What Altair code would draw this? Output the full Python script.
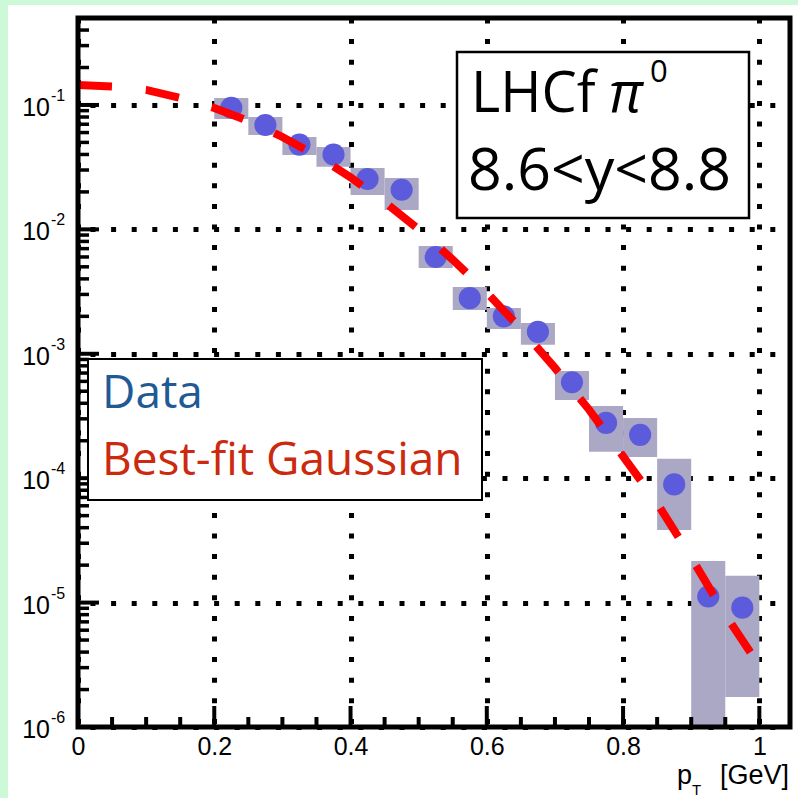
import altair as alt
import pandas as pd

# ---------------- data ----------------
pt = [0.225, 0.275, 0.325, 0.375, 0.425, 0.475, 0.525, 0.575,
      0.625, 0.675, 0.725, 0.775, 0.825, 0.875, 0.925, 0.975]
bin_lo = [0.20, 0.25, 0.30, 0.35, 0.40, 0.45, 0.50, 0.55,
          0.60, 0.65, 0.70, 0.75, 0.80, 0.85, 0.90, 0.95]
bin_hi = [0.25, 0.30, 0.35, 0.40, 0.45, 0.50, 0.55, 0.60,
          0.65, 0.70, 0.75, 0.80, 0.85, 0.90, 0.95, 1.00]
value = [0.095, 0.069, 0.048, 0.040, 0.0254, 0.0208, 0.0060, 0.0028,
         0.0020, 0.0015, 0.00059, 0.000278, 0.000223, 8.91e-5, 1.12e-5, 9.1e-6]
sys_lo = [0.0772, 0.0574, 0.0396, 0.0318, 0.0189, 0.0143, 0.0049, 0.00225,
          0.00158, 0.00118, 0.000426, 0.000163, 0.000148, 3.84e-5, 5e-7, 1.74e-6]
sys_hi = [0.1138, 0.0801, 0.0553, 0.0459, 0.0312, 0.0259, 0.00736, 0.00344,
          0.00233, 0.00177, 0.000728, 0.000380, 0.000305, 0.000143, 2.16e-5, 1.64e-5]

fit_x = [0.0, 0.05, 0.10, 0.15, 0.20, 0.25, 0.30, 0.35, 0.40, 0.45, 0.50,
         0.55, 0.60, 0.65, 0.70, 0.75, 0.80, 0.85, 0.90, 0.95, 1.00]
fit_y = [0.145, 0.141, 0.132, 0.114, 0.0945, 0.0743, 0.0553, 0.0392, 0.0262,
         0.0166, 0.0100, 0.00571, 0.00310, 0.00159, 0.00077, 0.000356,
         0.000150, 6.3e-5, 2.3e-5, 8.0e-6, 3.1e-6]

x_labels = [0.0, 0.2, 0.4, 0.6, 0.8, 1.0]
x_minor = [0.05, 0.10, 0.15, 0.25, 0.30, 0.35, 0.45, 0.50, 0.55,
           0.65, 0.70, 0.75, 0.85, 0.90, 0.95]
x_major = [0.2, 0.4, 0.6, 0.8, 1.0]
decades = [1e-6, 1e-5, 1e-4, 1e-3, 1e-2, 1e-1]
exponents = ["-6", "-5", "-4", "-3", "-2", "-1"]
mantissas = [2, 3, 4, 5, 6, 7, 8, 9]
y_minor = [m * d for d in decades for m in mantissas if m * d <= 0.5]

# ---------------- geometry / styles ----------------
W, H = 712, 709
xs = alt.Scale(domain=[0, 1.045], nice=False, zero=False)
ys = alt.Scale(type="log", domain=[1e-6, 0.5], nice=False)
grid_kw = dict(grid=True, gridColor="black", gridWidth=5, gridDash=[5, 15.6],
               gridOpacity=1, ticks=False, tickSize=0, domain=False, title=None)
xaxis = alt.Axis(values=x_labels, format="~g", labelFont="Liberation Sans",
                 labelFontSize=25, labelColor="black", labelPadding=7,
                 labelFlush=False, labelOverlap=False, **grid_kw)
yaxis = alt.Axis(values=decades, labels=False, gridDashOffset=8.6, **grid_kw)

one = pd.DataFrame({"a": [0]})
pts = pd.DataFrame({"pt": pt, "lo": bin_lo, "hi": bin_hi, "v": value,
                    "slo": sys_lo, "shi": sys_hi})
fit = pd.DataFrame({"x": fit_x, "y": fit_y})
dec = pd.DataFrame({"v": decades, "base": ["10"] * len(decades), "exp": exponents})

X = lambda f: alt.X(f, scale=xs, axis=xaxis)
Y = lambda f: alt.Y(f, scale=ys, axis=yaxis)

green_left = alt.Chart(one).mark_rect(color="#ccfad8").encode(
    x=alt.value(-78), x2=alt.value(-70), y=alt.value(-18), y2=alt.value(H + 71))
green_top = alt.Chart(one).mark_rect(color="#ccfad8").encode(
    x=alt.value(-78), x2=alt.value(W + 8), y=alt.value(-18), y2=alt.value(-13))

boxes = alt.Chart(pts).mark_rect(color="#aaa8c4", clip=True).encode(
    x=X("lo:Q"), x2="hi:Q", y=Y("slo:Q"), y2="shi:Q")
points = alt.Chart(pts).mark_circle(size=490, color="#5b5bdb", opacity=1).encode(
    x=X("pt:Q"), y=Y("v:Q"))
curve = alt.Chart(fit).mark_line(color="#ff0000", strokeWidth=8,
                                 strokeDash=[34, 34], clip=True).encode(
    x=X("x:Q"), y=Y("y:Q"))

# axis ticks (drawn inward, as in the reference)
tx_minor = alt.Chart(pd.DataFrame({"t": x_minor})).mark_rule(color="black", strokeWidth=4).encode(
    x=X("t:Q"), y=alt.value(H), y2=alt.value(H - 10))
tx_major = alt.Chart(pd.DataFrame({"t": x_major})).mark_rule(color="black", strokeWidth=4).encode(
    x=X("t:Q"), y=alt.value(H), y2=alt.value(H - 21))
ty_minor = alt.Chart(pd.DataFrame({"t": y_minor})).mark_rule(color="black", strokeWidth=3.5).encode(
    y=Y("t:Q"), x=alt.value(0), x2=alt.value(11))
ty_major = alt.Chart(pd.DataFrame({"t": decades})).mark_rule(color="black", strokeWidth=4).encode(
    y=Y("t:Q"), x=alt.value(0), x2=alt.value(21))

frame = alt.Chart(one).mark_rect(fillOpacity=0, stroke="black", strokeWidth=5).encode(
    x=alt.value(0), x2=alt.value(W), y=alt.value(0), y2=alt.value(H))

# y tick labels 10^n
ylab_base = alt.Chart(dec).mark_text(align="right", baseline="alphabetic", fontSize=25,
                                     font="Liberation Sans", color="black", dy=11).encode(
    x=alt.value(-28), y=Y("v:Q"), text="base:N")
ylab_exp = alt.Chart(dec).mark_text(align="left", baseline="alphabetic", fontSize=16,
                                    font="Liberation Sans", color="black", dy=-4).encode(
    x=alt.value(-27), y=Y("v:Q"), text="exp:N")

# x axis title p_T [GeV]
def txt(s, x, y, size, align="left", color="black", font="Liberation Sans", style="normal"):
    return alt.Chart(one).mark_text(text=s, align=align, baseline="alphabetic", fontSize=size,
                                    font=font, color=color, fontStyle=style).encode(
        x=alt.value(x), y=alt.value(y))

xt_p = txt("p", 599, 766, 27)
xt_T = txt("T", 614, 777, 15)
xt_gev = txt("[GeV]", 711, 766, 27, align="right")

# legend box
leg_box = alt.Chart(one).mark_rect(fill="white", stroke="black", strokeWidth=2).encode(
    x=alt.value(10), x2=alt.value(404), y=alt.value(341), y2=alt.value(482))
leg_data = txt("Data", 24, 390, 46, color="#1f5a96", font="Open Sans")
leg_fit = txt("Best-fit Gaussian", 24, 457, 46, color="#cc2a0e", font="Open Sans")

# label box
lab_box = alt.Chart(one).mark_rect(fill="white", stroke="black", strokeWidth=2.5).encode(
    x=alt.value(379), x2=alt.value(671), y=alt.value(34), y2=alt.value(200))
lab1 = txt("LHCf", 393, 94, 56, font="Open Sans")
lab_pi = txt("π", 531, 94, 56, font="Open Sans", style="italic")
lab_0 = txt("0", 572, 64, 31, font="Open Sans")
lab2 = txt("8.6<y<8.8", 390, 172, 59, font="Open Sans")

chart = alt.layer(
    green_left, green_top, boxes, points, curve,
    tx_minor, tx_major, ty_minor, ty_major, frame,
    ylab_base, ylab_exp, xt_p, xt_T, xt_gev,
    leg_box, leg_data, leg_fit, lab_box, lab1, lab_pi, lab_0, lab2,
).properties(
    width=W, height=H,
    autosize=alt.AutoSizeParams(type="none"),
    padding={"left": 78, "top": 18, "right": 8, "bottom": 71},
    background="white",
).configure_view(stroke=None)

chart.save("out.html", embed_options={"renderer": "svg", "actions": False})
